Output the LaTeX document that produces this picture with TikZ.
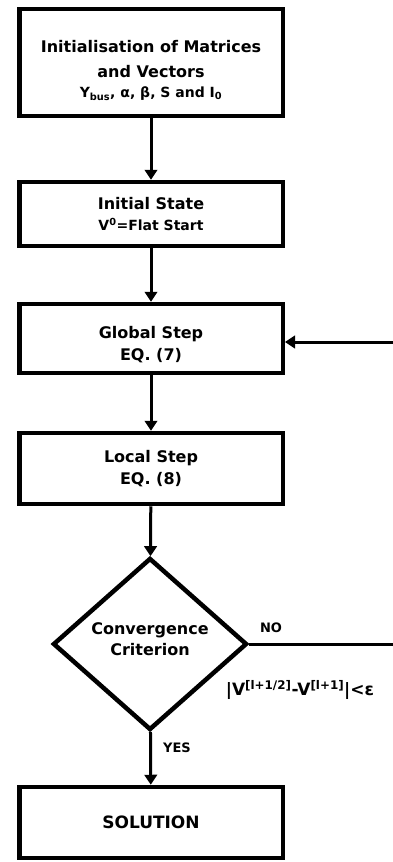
\documentclass[tikz,border=0pt]{standalone}
\usepackage{fontspec}
\setmainfont{DejaVu Sans}
\usetikzlibrary{arrows.meta,shapes.geometric}

\begin{document}
\begin{tikzpicture}[
  x=1pt,y=-1pt,
  font=\bfseries\fontsize{16}{24.5}\selectfont,
  stage/.style={draw,line width=4.5pt,rectangle,minimum width=263.5pt,align=center,inner sep=0pt},
  test/.style={draw,line width=4.5pt,diamond,aspect=1.13,minimum width=194pt,minimum height=172pt,inner sep=0pt,align=center},
  flow/.style={-{Triangle[length=10pt,width=12.5pt]},line width=3pt},
  tag/.style={font=\bfseries\fontsize{13}{15}\selectfont}
]
  \useasboundingbox (0,0) rectangle (393,862);
  \clip (0,0) rectangle (393,862);

  \node[stage,minimum height=107pt] (init) at (151,62.5)
    {\rule{0pt}{28pt}Initialisation of Matrices\\and Vectors\\[-4pt]
     {\fontsize{14}{16}\selectfont Y\textsubscript{bus}, α, β, S and I\textsubscript{0}}};
  \node[stage,minimum height=64pt] (state) at (151,214)
    {Initial State\\[-4pt]
     {\fontsize{14}{16}\selectfont V\textsuperscript{0}=Flat Start}};
  \node[stage,minimum height=69pt] (global) at (151,338.5)
    {\rule{0pt}{24pt}Global Step\\[-2pt]EQ. (7)};
  \node[stage,minimum height=71pt] (local) at (151,468.5) {Local Step\\[-3pt]EQ. (8)};
  \node[test] (conv) at (150,644)
    {Convergence\\[-4pt]Criterion\rule[-10pt]{0pt}{10pt}};
  \node[stage,minimum height=71pt,font=\bfseries\fontsize{17}{20}\selectfont] (sol) at (151,822.5) {SOLUTION};

  \node[tag] (no) at (271,628) {NO};
  \node[tag] (yes) at (177,748) {YES};
  \node[font=\bfseries\fontsize{17}{19}\selectfont] (crit) at (300,690)
    {|V\textsuperscript{[l+1/2]}-V\textsuperscript{[l+1]}|<ε};

  \coordinate (rim) at (401,0);

  \draw[flow] (init) -- (state);
  \draw[flow] (state) -- (global);
  \draw[flow] (global) -- (local);
  \draw[flow] (local) -- (conv);
  \draw[flow] (conv) -- (sol);
  \draw[flow] (conv.east) -- (conv.east -| rim) |- ([yshift=-3.5pt]global.east);
\end{tikzpicture}
\end{document}
